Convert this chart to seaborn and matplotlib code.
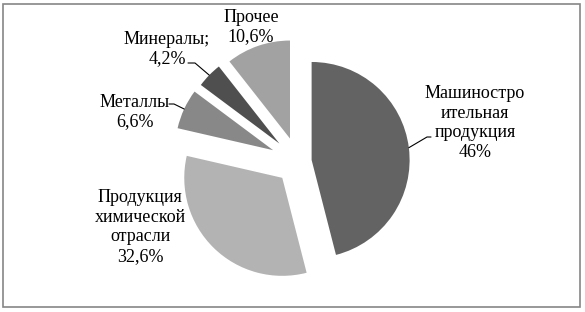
import matplotlib
matplotlib.use("Agg")
import matplotlib.pyplot as plt
import numpy as np
import seaborn as sns

# ---- data ----
categories = ["Машиностро\nительная\nпродукция", "Продукция\nхимической\nотрасли",
              "Металлы", "Минералы;", "Прочее"]
values = [46.0, 32.6, 6.6, 4.2, 10.6]
value_labels = ["46%", "32,6%", "6,6%", "4,2%", "10,6%"]

# ---- style ----
sns.set_theme(style="white")
plt.rcParams["font.family"] = ["Liberation Serif", "DejaVu Serif"]
colors = ["#636363", "#b3b3b3", "#888888", "#4f4f4f", "#a2a2a2"]
explode = [0.14, 0.23, 0.28, 0.265, 0.25]

W, H, DPI = 585, 312, 100
CX, CY, R = 298.0, 161.7, 98.0  # pie centre (pixels from top-left) and radius

fig = plt.figure(figsize=(W / DPI, H / DPI), dpi=DPI)
fig.patch.set_facecolor("white")
ax = fig.add_axes([0, 0, 1, 1])
ax.axis("off")

wedges, _ = ax.pie(values, colors=colors, explode=explode, startangle=90,
                   counterclock=False, radius=1.0,
                   wedgeprops=dict(linewidth=0))
ax.set_aspect("equal")
ax.set_xlim(-CX / R, (W - CX) / R)
ax.set_ylim(-(H - CY) / R, CY / R)


def p2d(px, py):
    return (px - CX) / R, (CY - py) / R


def anchor(i):
    w = wedges[i]
    th = np.deg2rad((w.theta1 + w.theta2) / 2)
    cx, cy = w.center
    return cx + np.cos(th), cy + np.sin(th)


label_pos = [(475, 123), (140, 227), (135, 112), (167, 49), (251, 27)]
spacing = [1.2, 1.2, 1.1, 1.1, 1.2]
for i, (lab, val) in enumerate(zip(categories, value_labels)):
    x, y = p2d(*label_pos[i])
    ax.text(x, y, f"{lab}\n{val}", ha="center", va="center", fontsize=13,
            linespacing=spacing[i], color="black")

# leader lines
leaders = {
    0: [(431, 137), (427, 137)],
    2: [(169, 104), (174, 104)],
    3: [(188, 63), (195, 63)],
}
for i, pts in leaders.items():
    xs = [p2d(*p)[0] for p in pts] + [anchor(i)[0]]
    ys = [p2d(*p)[1] for p in pts] + [anchor(i)[1]]
    ax.plot(xs, ys, color="black", lw=0.8)

# outer frame
fig.add_artist(plt.Rectangle((3 / W, (H - 307) / H), 577 / W, 303 / H,
                             transform=fig.transFigure, fill=False,
                             edgecolor="#868686", linewidth=1.2))

fig.savefig("out.png", dpi=DPI)
